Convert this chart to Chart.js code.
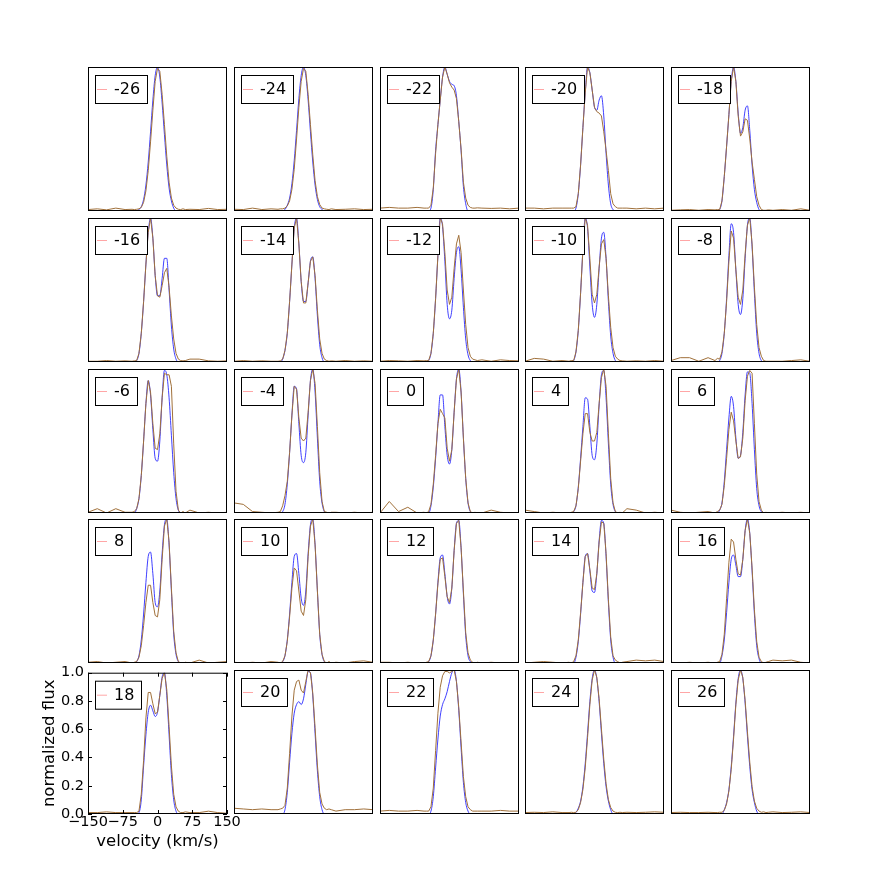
<!DOCTYPE html>
<html>
<head>
<meta charset="utf-8">
<script src="https://cdn.jsdelivr.net/npm/chart.js@4.4.1/dist/chart.umd.min.js"></script>
<style>
  body { margin: 0; background: #fff; }
  #fig { position: relative; width: 871px; height: 886px; overflow: hidden; background: #fff; }
  #fig canvas { position: absolute; }
</style>
</head>
<body>
<div id="fig"></div>
<script>
// panel labels, in reading order
var phases = [-26, -24, -22, -20, -18, -16, -14, -12, -10, -8, -6, -4, 0, 4, 6, 8, 10, 12, 14, 16, 18, 20, 22, 24, 26];

// velocity grids (km/s): model is sampled only over the line core
var vCore = [-55, -50, -45, -40, -35, -30, -25, -20, -15, -10, -5, 0, 5, 10, 15, 20, 25, 30, 35, 40, 45, 50, 55, 60];
var vObs = [-150, -130, -110, -90, -70, -55, -50, -45, -40, -35, -30, -25, -20, -15, -10, -5, 0, 5, 10, 15, 20, 25, 30, 35, 40, 45, 50, 55, 60, 70, 90, 110, 130, 150];

var xTicks = [-150, -75, 0, 75, 150];
var yTicks = [0, 0.2, 0.4, 0.6, 0.8, 1.0];

// normalized flux, model (blue) and observed (brown)
var model_n26 = [0,0,0,0.01,0.03,0.08,0.18,0.34,0.55,0.77,0.94,1,0.93,0.75,0.53,0.32,0.16,0.07,0.02,0,0,0,0,0];
var obs_n26 = [0.01,0.015,0.008,0.02,0.01, 0.012,0.01,0.012,0.015,0.025,0.06,0.14,0.28,0.48,0.7,0.9,0.99,0.97,0.81,0.6,0.38,0.2,0.09,0.04,0.02,0.012,0.01,0.015,0.01, 0.012,0.01,0.018,0.01,0.012];

var model_n24 = [0,0,0,0.01,0.04,0.09,0.19,0.35,0.56,0.78,0.94,1,0.94,0.77,0.55,0.34,0.18,0.08,0.03,0.01,0,0,0,0];
var obs_n24 = [0.012,0.01,0.02,0.01,0.015, 0.012,0.015,0.015,0.02,0.035,0.07,0.15,0.29,0.5,0.72,0.9,0.99,0.97,0.81,0.6,0.39,0.21,0.1,0.045,0.02,0.015,0.012,0.01,0.015, 0.01,0.012,0.015,0.01,0.012];

var model_n22 = [0,0,0,0.02,0.15,0.42,0.6,0.77,0.93,1,0.95,0.9,0.88,0.87,0.8,0.62,0.42,0.17,0.05,0,0,0,0,0];
var obs_n22 = [0.02,0.025,0.02,0.02,0.025, 0.02,0.02,0.02,0.04,0.16,0.4,0.6,0.77,0.93,1,0.95,0.89,0.86,0.84,0.78,0.62,0.43,0.2,0.09,0.04,0.025,0.02,0.02,0.022, 0.02,0.018,0.02,0.015,0.02];

var model_n20 = [0,0,0,0.02,0.12,0.32,0.58,0.82,1,0.96,0.84,0.72,0.7,0.77,0.8,0.66,0.4,0.18,0.05,0.01,0,0,0,0];
var obs_n20 = [0.02,0.02,0.015,0.02,0.02, 0.02,0.02,0.02,0.03,0.12,0.32,0.58,0.82,1,0.96,0.84,0.72,0.69,0.68,0.66,0.55,0.42,0.28,0.12,0.05,0.03,0.02,0.02,0.02, 0.02,0.015,0.02,0.015,0.02];

var model_n18 = [0,0,0.01,0.07,0.24,0.45,0.67,0.9,1,0.9,0.68,0.54,0.58,0.7,0.73,0.56,0.32,0.15,0.06,0.01,0,0,0,0];
var obs_n18 = [0.005,0.008,0.01,0.005,0.01, 0.008,0.01,0.01,0.07,0.24,0.45,0.67,0.9,1,0.9,0.66,0.52,0.55,0.64,0.63,0.5,0.34,0.22,0.1,0.04,0.01,0.005,0.005,0.008, 0.005,0.01,0.005,0.015,0.005];

var model_n16 = [0,0,0.01,0.06,0.2,0.42,0.68,0.9,1,0.86,0.6,0.46,0.46,0.58,0.72,0.72,0.5,0.25,0.09,0.02,0,0,0,0];
var obs_n16 = [0.005,0.005,0.01,0.005,0.008, 0.005,0.008,0.01,0.06,0.2,0.42,0.68,0.9,1,0.86,0.6,0.46,0.45,0.53,0.62,0.65,0.52,0.32,0.16,0.06,0.02,0.01,0.008,0.01, 0.02,0.02,0.008,0.005,0.008];

var model_n14 = [0,0,0.02,0.08,0.2,0.42,0.68,0.93,1,0.82,0.56,0.42,0.42,0.55,0.7,0.73,0.58,0.32,0.12,0.03,0,0,0,0];
var obs_n14 = [0.005,0.01,0.005,0.008,0.005, 0.005,0.008,0.02,0.08,0.2,0.42,0.68,0.93,1,0.82,0.56,0.41,0.41,0.55,0.7,0.73,0.6,0.36,0.16,0.06,0.02,0.01,0.005,0.008, 0.005,0.01,0.005,0.008,0.005];

var model_n12 = [0,0,0.01,0.06,0.2,0.44,0.74,1,0.94,0.7,0.4,0.3,0.36,0.58,0.76,0.8,0.64,0.38,0.16,0.05,0.01,0,0,0];
var obs_n12 = [0.005,0.01,0.008,0.005,0.01, 0.008,0.01,0.01,0.06,0.2,0.44,0.74,1,0.96,0.76,0.5,0.4,0.45,0.65,0.82,0.88,0.76,0.5,0.26,0.1,0.04,0.02,0.015,0.01, 0.015,0.005,0.015,0.01,0.008];

var model_n10 = [0,0,0.01,0.07,0.22,0.48,0.78,1,0.93,0.66,0.4,0.31,0.4,0.65,0.86,0.9,0.72,0.42,0.18,0.06,0.01,0,0,0];
var obs_n10 = [0.005,0.025,0.02,0.005,0.01, 0.005,0.01,0.01,0.07,0.22,0.48,0.78,1,0.95,0.72,0.47,0.41,0.47,0.66,0.82,0.85,0.72,0.46,0.24,0.1,0.04,0.02,0.01,0.008, 0.005,0.008,0.005,0.01,0.005];

var model_n8 = [0,0,0.01,0.06,0.2,0.44,0.74,0.96,0.9,0.64,0.4,0.33,0.44,0.72,0.95,1,0.8,0.48,0.2,0.06,0.01,0,0,0];
var obs_n8 = [0.01,0.03,0.03,0.005,0.03, 0.01,0.025,0.02,0.07,0.2,0.42,0.7,0.91,0.86,0.64,0.45,0.4,0.5,0.75,0.95,1,0.82,0.52,0.26,0.1,0.04,0.01,0.005,0.005, 0.005,0.005,0.01,0.015,0.005];

var model_n6 = [0,0,0.03,0.1,0.26,0.5,0.76,0.92,0.82,0.58,0.38,0.36,0.5,0.8,0.99,0.96,0.8,0.54,0.28,0.1,0.02,0,0,0];
var obs_n6 = [0.005,0.03,0.0,0.03,0.005, 0.005,0.01,0.03,0.1,0.26,0.5,0.76,0.92,0.84,0.62,0.45,0.44,0.55,0.8,0.97,0.96,0.96,0.88,0.48,0.15,0.02,0.0,0.01,0.0, 0.02,0.0,0.005,0.0,0.005];

var model_n4 = [0,0,0.01,0.06,0.2,0.42,0.68,0.88,0.86,0.62,0.4,0.35,0.42,0.68,0.92,1,0.84,0.52,0.22,0.07,0.01,0,0,0];
var obs_n4 = [0.07,0.06,0.01,0.005,0.0, 0.005,0.01,0.05,0.12,0.22,0.42,0.68,0.88,0.86,0.66,0.52,0.5,0.52,0.7,0.92,1,0.9,0.6,0.28,0.08,0.01,0.005,0.0,0.005, 0.005,0.0,0.005,0.0,0.005];

var model_p0 = [0,0,0,0.05,0.18,0.38,0.62,0.82,0.82,0.6,0.4,0.34,0.44,0.7,0.93,1,0.84,0.52,0.24,0.07,0.01,0,0,0];
var obs_p0 = [0.0,0.08,0.01,0.04,0.0, 0.005,0.0,0.01,0.06,0.2,0.4,0.62,0.72,0.69,0.66,0.45,0.36,0.44,0.7,0.93,1,0.84,0.52,0.24,0.07,0.01,0.0,0.005,0.0, 0.0,0.02,0.005,0.0,0.0];

var model_p4 = [0,0,0.01,0.05,0.18,0.38,0.6,0.8,0.79,0.6,0.4,0.37,0.48,0.75,0.96,0.99,0.8,0.48,0.2,0.06,0.01,0,0,0];
var obs_p4 = [0.02,0.01,0.0,0.005,0.0, 0.0,0.005,0.01,0.05,0.17,0.36,0.55,0.69,0.69,0.56,0.5,0.5,0.56,0.76,0.94,1,0.88,0.55,0.24,0.07,0.01,0.0,0.005,0.0, 0.03,0.02,0.0,0.005,0.0];

var model_p6 = [0,0,0.02,0.07,0.22,0.44,0.66,0.81,0.74,0.52,0.38,0.4,0.56,0.82,0.98,0.97,0.76,0.44,0.17,0.05,0.01,0,0,0];
var obs_p6 = [0.02,0.005,0.0,0.005,0.01, 0.0,0.01,0.02,0.06,0.19,0.38,0.58,0.7,0.64,0.5,0.38,0.39,0.52,0.78,0.95,0.99,0.97,0.62,0.27,0.08,0.02,0.0,0.005,0.0, 0.0,0.005,0.0,0.005,0.0];

var model_p8 = [0,0,0.01,0.05,0.16,0.34,0.56,0.74,0.77,0.62,0.42,0.39,0.5,0.76,0.96,1,0.82,0.5,0.2,0.06,0.01,0,0,0];
var obs_p8 = [0.005,0.01,0.0,0.005,0.01, 0.0,0.005,0.01,0.04,0.12,0.26,0.42,0.54,0.54,0.42,0.33,0.32,0.44,0.72,0.95,1,0.84,0.52,0.22,0.07,0.01,0.0,0.0,0.005, 0.0,0.02,0.0,0.005,0.01];

var model_p10 = [0,0,0.01,0.05,0.16,0.34,0.56,0.74,0.76,0.62,0.45,0.4,0.5,0.76,0.96,1,0.82,0.5,0.2,0.06,0.01,0,0,0];
var obs_p10 = [0.005,0.0,0.005,0.0,0.01, 0.005,0.0,0.01,0.05,0.15,0.32,0.52,0.66,0.64,0.5,0.36,0.33,0.44,0.74,0.95,1,0.82,0.5,0.2,0.06,0.01,0.0,0.01,0.0, 0.005,0.0,0.01,0.015,0.005];

var model_p12 = [0,0,0.01,0.05,0.16,0.34,0.56,0.73,0.75,0.62,0.46,0.41,0.52,0.78,0.97,0.99,0.8,0.48,0.19,0.05,0.01,0,0,0];
var obs_p12 = [0.005,0.005,0.0,0.005,0.0, 0.0,0.005,0.01,0.05,0.16,0.34,0.55,0.72,0.73,0.6,0.46,0.42,0.52,0.78,0.97,0.99,0.8,0.5,0.21,0.07,0.02,0.005,0.0,0.005, 0.0,0.005,0.0,0.0,0.005];

var model_p14 = [0,0,0,0.04,0.15,0.34,0.56,0.74,0.76,0.64,0.5,0.49,0.62,0.85,0.99,0.97,0.74,0.42,0.16,0.04,0,0,0,0];
var obs_p14 = [0.0,0.005,0.01,0.005,0.0, 0.005,0.0,0.01,0.05,0.16,0.35,0.56,0.74,0.76,0.65,0.52,0.51,0.62,0.84,0.98,0.97,0.76,0.44,0.18,0.05,0.02,0.01,0.0,0.005, 0.01,0.02,0.015,0.02,0.01];

var model_p16 = [0,0,0,0.05,0.16,0.35,0.56,0.72,0.75,0.68,0.6,0.6,0.72,0.92,1,0.9,0.64,0.34,0.12,0.03,0,0,0,0];
var obs_p16 = [0.005,0.0,0.005,0.0,0.005, 0.0,0.005,0.01,0.06,0.2,0.45,0.7,0.86,0.84,0.72,0.62,0.61,0.72,0.92,1,0.9,0.66,0.37,0.15,0.04,0.01,0.0,0.005,0.01, 0.02,0.015,0.02,0.005,0.0];

var model_p18 = [0,0,0,0.01,0.1,0.34,0.56,0.72,0.77,0.73,0.69,0.72,0.84,0.97,1,0.84,0.56,0.28,0.1,0.02,0,0,0,0];
var obs_p18 = [0.01,0.01,0.015,0.01,0.01, 0.01,0.01,0.01,0.02,0.14,0.38,0.68,0.86,0.86,0.78,0.71,0.72,0.84,0.96,1,0.88,0.62,0.34,0.14,0.05,0.02,0.01,0.01,0.015, 0.01,0.01,0.02,0.01,0.005];

var model_p20 = [0,0,0,0.03,0.15,0.36,0.56,0.7,0.76,0.78,0.76,0.8,0.9,0.99,0.98,0.82,0.56,0.3,0.12,0.03,0,0,0,0];
var obs_p20 = [0.04,0.035,0.03,0.035,0.03, 0.03,0.035,0.04,0.06,0.18,0.42,0.68,0.86,0.92,0.93,0.86,0.84,0.92,1,0.98,0.84,0.6,0.34,0.15,0.07,0.04,0.03,0.035,0.03, 0.02,0.03,0.03,0.035,0.03];

var model_p22 = [0,0,0,0.02,0.12,0.32,0.52,0.68,0.76,0.8,0.85,0.92,0.98,1,0.92,0.72,0.46,0.22,0.08,0.02,0,0,0,0];
var obs_p22 = [0.02,0.025,0.02,0.02,0.025, 0.02,0.02,0.02,0.05,0.18,0.44,0.7,0.88,0.96,0.99,0.99,0.98,0.99,1,0.92,0.74,0.5,0.26,0.12,0.05,0.03,0.02,0.02,0.02, 0.02,0.02,0.025,0.02,0.02];

var model_p24 = [0,0,0,0.01,0.04,0.09,0.19,0.35,0.56,0.78,0.94,1,0.94,0.78,0.56,0.35,0.19,0.09,0.03,0,0,0,0,0];
var obs_p24 = [0.01,0.012,0.01,0.015,0.01, 0.01,0.012,0.01,0.012,0.03,0.08,0.17,0.32,0.53,0.76,0.93,1,0.95,0.8,0.59,0.38,0.21,0.1,0.045,0.02,0.012,0.01,0.012,0.01, 0.012,0.01,0.012,0.015,0.012];

var model_p26 = [0,0,0,0,0.03,0.08,0.17,0.33,0.54,0.77,0.94,1,0.94,0.77,0.54,0.33,0.17,0.08,0.02,0,0,0,0,0];
var obs_p26 = [0.01,0.012,0.01,0.01,0.012, 0.01,0.01,0.012,0.012,0.025,0.07,0.16,0.31,0.52,0.76,0.93,1,0.95,0.79,0.57,0.36,0.19,0.09,0.04,0.02,0.012,0.015,0.01,0.012, 0.015,0.01,0.012,0.015,0.01];

var models = [model_n26, model_n24, model_n22, model_n20, model_n18,
              model_n16, model_n14, model_n12, model_n10, model_n8,
              model_n6, model_n4, model_p0, model_p4, model_p6,
              model_p8, model_p10, model_p12, model_p14, model_p16,
              model_p18, model_p20, model_p22, model_p24, model_p26];
var observed = [obs_n26, obs_n24, obs_n22, obs_n20, obs_n18,
                obs_n16, obs_n14, obs_n12, obs_n10, obs_n8,
                obs_n6, obs_n4, obs_p0, obs_p4, obs_p6,
                obs_p8, obs_p10, obs_p12, obs_p14, obs_p16,
                obs_p18, obs_p20, obs_p22, obs_p24, obs_p26];

// layout of the 5x5 grid (pixels)
var colLeft = [88, 234, 380, 525, 671];
var rowTop = [67, 218, 369, 519, 670];
var panelW = 139, panelH = 144;
var FONT = '"DejaVu Sans", "Liberation Sans", sans-serif';

// frame, legend box, inner ticks and axis titles
var panelDecor = {
  id: 'panelDecor',
  afterDatasetsDraw: function(chart, args, opts) {
    var ctx = chart.ctx, a = chart.chartArea;
    ctx.save();
    ctx.strokeStyle = '#000';
    ctx.lineWidth = 1;
    ctx.strokeRect(a.left + 0.5, a.top + 0.5, a.right - a.left - 1, a.bottom - a.top - 1);

    if (opts.axes) {
      var xs = chart.scales.x, ys = chart.scales.y;
      ctx.beginPath();
      yTicks.forEach(function(t) {
        var py = Math.round(ys.getPixelForValue(t)) + 0.5;
        ctx.moveTo(a.left, py); ctx.lineTo(a.left + 4, py);
        ctx.moveTo(a.right, py); ctx.lineTo(a.right - 4, py);
      });
      xTicks.forEach(function(t) {
        var px = Math.round(xs.getPixelForValue(t)) + 0.5;
        ctx.moveTo(px, a.bottom); ctx.lineTo(px, a.bottom - 4);
        ctx.moveTo(px, a.top); ctx.lineTo(px, a.top + 4);
      });
      ctx.stroke();

      ctx.fillStyle = '#000';
      ctx.font = '16.5px ' + FONT;
      ctx.textAlign = 'center';
      ctx.textBaseline = 'middle';
      ctx.fillText('velocity (km/s)', (a.left + a.right) / 2, a.bottom + 28);
      ctx.save();
      ctx.translate(a.left - 38, (a.top + a.bottom) / 2);
      ctx.rotate(-Math.PI / 2);
      ctx.fillText('normalized flux', 0, 0);
      ctx.restore();
    }

    // legend
    ctx.font = '16px ' + FONT;
    var label = String(opts.label);
    var tw = ctx.measureText(label).width;
    var bx = a.left + 7, by = a.top + 8, bw = Math.round(tw) + 26, bh = 28;
    ctx.fillStyle = '#fff';
    ctx.fillRect(bx, by, bw, bh);
    ctx.strokeStyle = '#000';
    ctx.strokeRect(bx + 0.5, by + 0.5, bw, bh);
    ctx.strokeStyle = 'rgba(255,0,0,0.35)';
    ctx.beginPath();
    ctx.moveTo(bx + 2, by + 14.5);
    ctx.lineTo(bx + 12, by + 14.5);
    ctx.stroke();
    ctx.fillStyle = '#000';
    ctx.textAlign = 'left';
    ctx.textBaseline = 'middle';
    ctx.fillText(label, bx + 19, by + 15);
    ctx.restore();
  }
};

var fig = document.getElementById('fig');

phases.forEach(function(ph, k) {
  var r = Math.floor(k / 5), c = k % 5;
  var withAxes = (k === 20);
  var canvas = document.createElement('canvas');
  var padTop = 0, padRight = 0, axW = 0, axH = 0;
  if (withAxes) { padTop = 10; padRight = 25; axW = colLeft[c]; axH = 60; }
  var cw = panelW + axW + padRight, chh = panelH + padTop + axH;
  canvas.width = cw; canvas.height = chh;
  canvas.style.width = cw + 'px'; canvas.style.height = chh + 'px';
  canvas.style.left = (colLeft[c] - axW) + 'px';
  canvas.style.top = (rowTop[r] - padTop) + 'px';
  fig.appendChild(canvas);

  var obsPts = observed[k].map(function(y, i) { return { x: vObs[i], y: y }; });
  var modPts = models[k].map(function(y, i) { return { x: vCore[i], y: y }; });

  var xScale = { type: 'linear', min: -150, max: 150, display: false };
  var yScale = { type: 'linear', min: 0, max: 1, display: false };
  if (withAxes) {
    xScale = {
      type: 'linear', min: -150, max: 150,
      afterBuildTicks: function(s) { s.ticks = xTicks.map(function(v) { return { value: v }; }); },
      afterFit: function(s) { s.height = axH; },
      grid: { display: false, drawTicks: false },
      border: { display: false },
      ticks: {
        padding: 0, maxRotation: 0, autoSkip: false, color: '#000',
        font: { family: FONT, size: 14.5 },
        callback: function(v) { return String(v).replace('-', '\u2212'); }
      }
    };
    yScale = {
      type: 'linear', min: 0, max: 1,
      afterBuildTicks: function(s) { s.ticks = yTicks.map(function(v) { return { value: v }; }); },
      afterFit: function(s) { s.width = axW; },
      grid: { display: false, drawTicks: false },
      border: { display: false },
      ticks: {
        padding: 4, color: '#000',
        font: { family: FONT, size: 14.5 },
        callback: function(v) { return Number(v).toFixed(1); }
      }
    };
  }

  new Chart(canvas, {
    type: 'line',
    data: {
      datasets: [
        { label: String(ph), data: obsPts, borderColor: '#a0703a', borderWidth: 1, pointRadius: 0, tension: 0 },
        { label: 'model', data: modPts, borderColor: 'rgba(30,30,255,0.85)', borderWidth: 1, pointRadius: 0, cubicInterpolationMode: 'monotone' }
      ]
    },
    options: {
      responsive: false,
      animation: false,
      devicePixelRatio: 1,
      layout: { padding: { top: padTop, right: padRight, left: 0, bottom: 0 } },
      scales: { x: xScale, y: yScale },
      plugins: {
        legend: { display: false },
        tooltip: { enabled: false },
        panelDecor: { label: ph, axes: withAxes }
      }
    },
    plugins: [panelDecor]
  });
});
</script>
</body>
</html>
